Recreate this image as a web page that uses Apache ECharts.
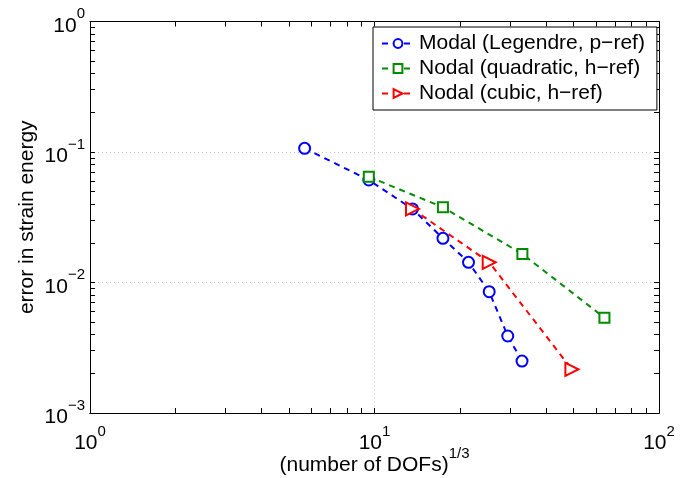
<!DOCTYPE html>
<html>
<head>
<meta charset="utf-8">
<script src="https://cdn.jsdelivr.net/npm/echarts@6/dist/echarts.min.js"></script>
<style>
  html, body { margin: 0; padding: 0; background: #fff; }
  #chart { width: 681px; height: 478px; }
</style>
</head>
<body>
<div id="chart"></div>
<script>
// data (log-log)
const modalX = [5.68, 9.55, 13.6, 17.4, 21.4, 25.3, 29.4, 33.0];
const modalY = [0.1067, 0.0610, 0.0366, 0.0218, 0.01428, 0.0085, 0.00389, 0.0025];
const quadX = [9.55, 17.4, 33.1, 64.3];
const quadY = [0.0647, 0.0377, 0.01653, 0.00537];
const cubicX = [13.6, 25.3, 49.4];
const cubicY = [0.0366, 0.01428, 0.00216];

const seriesNames = ['Modal (Legendre, p\u2212ref)', 'Nodal (quadratic, h\u2212ref)', 'Nodal (cubic, h\u2212ref)'];

const xTicks = [1, 10, 100];
const yTicks = [0.001, 0.01, 0.1, 1];

const FONT = 'Liberation Sans';

// minor ticks at 1..9 x each decade, like matlab log axes
const logTicks = (decades) => {
  const out = [];
  for (let i = 0; i < decades.length - 1; i++) {
    for (let k = 1; k < 10; k++) out.push(+(decades[i] * k).toPrecision(3));
  }
  out.push(decades[decades.length - 1]);
  return out;
};

const pow10Label = (v) => {
  const e = Math.round(Math.log10(v));
  return '{b|10}{e|' + (e < 0 ? '\u2212' + (-e) : e) + '}';
};

const labelRich = {
  b: { fontSize: 21, fontFamily: FONT, color: '#000', lineHeight: 30, verticalAlign: 'bottom' },
  e: { fontSize: 15, fontFamily: FONT, color: '#000', lineHeight: 14, verticalAlign: 'top' }
};

const pair = (xs, ys) => xs.map((x, i) => [x, ys[i]]);

const axisBase = (ticks) => ({
  type: 'log',
  logBase: 10,
  min: ticks[0],
  max: ticks[ticks.length - 1],
  axisLine: { show: true, onZero: false, lineStyle: { color: '#000', width: 1 } },
  axisTick: { show: false },
  axisLabel: { show: false },
  splitLine: { show: false },
  minorTick: { show: false }
});

// axis that only carries the small inside ticks (split lines would follow them otherwise)
const tickAxis = (ticks, position) => Object.assign(axisBase(ticks), {
  position: position,
  axisTick: { show: true, inside: true, length: 5, customValues: logTicks(ticks), lineStyle: { color: '#000' } }
});

const gridLine = { show: true, lineStyle: { color: '#c8c8c8', type: [1, 3], width: 1 } };

const chart = echarts.init(document.getElementById('chart'));

const dash = [6, 5];

chart.setOption({
  animation: false,
  backgroundColor: '#fff',
  textStyle: { fontFamily: FONT },
  grid: { left: 90, right: 22, top: 21.5, bottom: 65, containLabel: false, outerBoundsMode: 'none' },
  legend: {
    data: seriesNames,
    orient: 'vertical',
    left: 373,
    top: 27,
    padding: [6, 12, 6, 8],
    itemGap: 4,
    itemWidth: 32,
    itemHeight: 11,
    borderColor: '#000',
    borderWidth: 1,
    backgroundColor: '#fff',
    textStyle: { fontSize: 21, fontFamily: FONT, color: '#000', lineHeight: 21 }
  },
  xAxis: [
    Object.assign(axisBase(xTicks), {
      position: 'bottom',
      name: '{t|(number of DOFs)}{e|1/3}',
      nameLocation: 'middle',
      nameMoveOverlap: false,
      nameGap: 33,
      nameTextStyle: {
        rich: {
          t: { fontSize: 21, fontFamily: FONT, color: '#000', lineHeight: 30, verticalAlign: 'bottom' },
          e: { fontSize: 15, fontFamily: FONT, color: '#000', lineHeight: 14, verticalAlign: 'top' }
        }
      },
      axisLabel: { show: true, customValues: xTicks, margin: 11, formatter: pow10Label, rich: labelRich },
      splitLine: gridLine
    }),
    tickAxis(xTicks, 'bottom'),
    tickAxis(xTicks, 'top')
  ],
  yAxis: [
    Object.assign(axisBase(yTicks), {
      position: 'left',
      name: 'error in strain energy',
      nameLocation: 'middle',
      nameMoveOverlap: false,
      nameGap: 52,
      nameTextStyle: { fontSize: 21, fontFamily: FONT, color: '#000' },
      axisLabel: { show: true, customValues: yTicks, margin: 5, formatter: pow10Label, rich: labelRich },
      splitLine: gridLine
    }),
    tickAxis(yTicks, 'left'),
    tickAxis(yTicks, 'right')
  ],
  series: [
    {
      name: seriesNames[0],
      type: 'line',
      data: pair(modalX, modalY),
      symbol: 'emptyCircle',
      symbolSize: 11,
      color: '#0000ff',
      itemStyle: { color: '#0000ff', borderWidth: 2 },
      lineStyle: { color: '#0000ff', width: 2, type: dash }
    },
    {
      name: seriesNames[1],
      type: 'line',
      data: pair(quadX, quadY),
      symbol: 'emptyRect',
      symbolSize: 10,
      color: '#008c00',
      itemStyle: { color: '#008c00', borderWidth: 2 },
      lineStyle: { color: '#008c00', width: 2, type: dash }
    },
    {
      name: seriesNames[2],
      type: 'line',
      data: pair(cubicX, cubicY),
      symbol: 'emptyTriangle',
      symbolSize: 13,
      symbolRotate: -90,
      color: '#ff0000',
      itemStyle: { color: '#ff0000', borderWidth: 2 },
      lineStyle: { color: '#ff0000', width: 2, type: dash }
    }
  ]
});
</script>
</body>
</html>
